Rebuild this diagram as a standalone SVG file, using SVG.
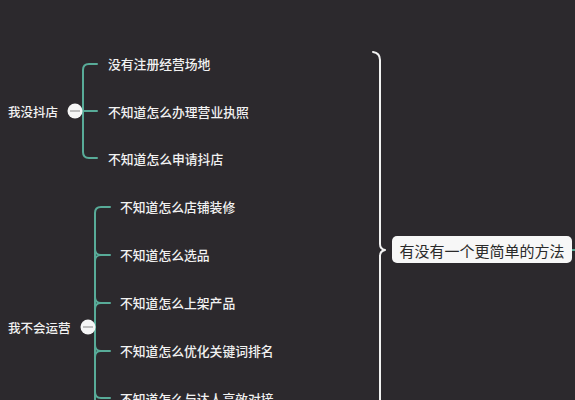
<svg xmlns="http://www.w3.org/2000/svg" width="575" height="400" viewBox="0 0 575 400">
<style>
.bg{fill:#2c292d}
.t{font-family:"Noto Sans CJK SC","Noto Sans",sans-serif;fill:#f2f2f2;font-weight:500;dominant-baseline:central}
.c{font-size:12.8px}
.p{font-size:12.5px}
.br{fill:none;stroke:#58ab98;stroke-width:2;stroke-linecap:round}
.wb{fill:none;stroke:#f2f2f2;stroke-width:2;stroke-linecap:round;stroke-linejoin:round}
.knob{fill:#f6f6f6}
.knobl{stroke:#9a9a9a;stroke-width:1.2}
</style>
<rect class="bg" x="0" y="0" width="575" height="400"/>
<g id="connectors">
<path class="br" d="M97,64 H89 Q83,64 83,70 V152 Q83,158 89,158 H97"/>
<path class="br" d="M75,111 H97"/>
<path class="br" d="M110,207 H101 Q95,207 95,213 V400"/>
<path class="br" d="M110,255 H101 Q95,255 95,249 M95,261 Q95,255 101,255"/>
<path class="br" d="M110,303 H101 Q95,303 95,297 M95,309 Q95,303 101,303"/>
<path class="br" d="M110,351 H101 Q95,351 95,345 M95,357 Q95,351 101,351"/>
<path class="br" d="M110,398 H101 Q95,398 95,392"/>
<path class="br" d="M88,327 H95"/>
<path class="wb" d="M373,52 Q380,53 380,60 V244 Q380,249 385,250 Q380,251 380,256 V400"/>
<path class="br" d="M572,250 H575"/>
</g>
<g id="n1">
<text class="t p" x="8" y="111">我没抖店</text>
<circle class="knob" cx="75" cy="111" r="7.5"/>
<line class="knobl" x1="70" y1="111" x2="80" y2="111"/>
</g>
<g id="n1a"><text class="t c" x="108" y="63">没有注册经营场地</text></g>
<g id="n1b"><text class="t c" x="108" y="111">不知道怎么办理营业执照</text></g>
<g id="n1c"><text class="t c" x="108" y="158">不知道怎么申请抖店</text></g>
<g id="n2">
<text class="t p" x="8" y="327">我不会运营</text>
<circle class="knob" cx="88" cy="327" r="7.5"/>
<line class="knobl" x1="83" y1="327" x2="93" y2="327"/>
</g>
<g id="n2a"><text class="t c" x="120" y="206">不知道怎么店铺装修</text></g>
<g id="n2b"><text class="t c" x="120" y="254">不知道怎么选品</text></g>
<g id="n2c"><text class="t c" x="120" y="302">不知道怎么上架产品</text></g>
<g id="n2d"><text class="t c" x="120" y="350">不知道怎么优化关键词排名</text></g>
<g id="n2e"><text class="t c" x="120" y="398">不知道怎么与达人高效对接</text></g>
<g id="root">
<rect x="392" y="236" width="180" height="27" rx="5" fill="#f7f7f7"/>
<text class="t" x="482" y="250" text-anchor="middle" font-size="15" style="fill:#2a2a2a;font-weight:400">有没有一个更简单的方法</text>
</g>
</svg>
